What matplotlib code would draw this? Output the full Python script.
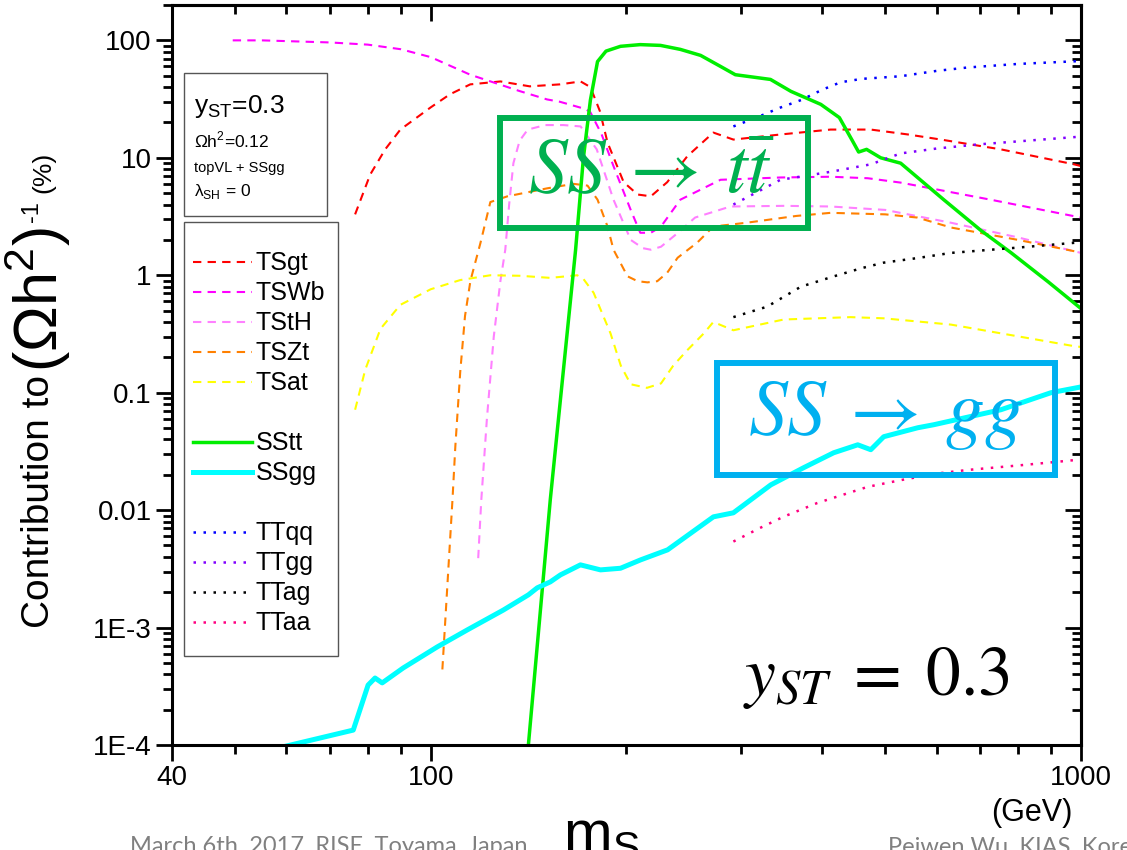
import matplotlib
matplotlib.use('Agg')
import matplotlib.pyplot as plt
from matplotlib.lines import Line2D
from matplotlib.patches import Rectangle
from matplotlib.ticker import FixedLocator, FixedFormatter, NullFormatter

plt.rcParams['font.family'] = ['Liberation Sans', 'DejaVu Sans']

# m_S in GeV, contributions to (Omega h^2)^-1 in %
m_tsgt = [76.5, 80.7, 85.1, 89.8, 100, 107, 115, 128, 142, 158, 170, 176, 182, 187, 198,
          208, 218, 231, 248, 272, 292, 345, 412, 475, 542, 609, 753, 976, 1000]
tsgt = [3.3, 7.2, 11.8, 17.4, 26.9, 34.7, 42.2, 44.7, 40.6, 42.2, 44.7, 40, 25, 13.5, 6.2,
        4.87, 4.7, 6.2, 10.3, 16.4, 14.3, 15.8, 17.4, 17.4, 15.8, 14.3, 11.8, 8.8, 8.5]

m_tswb = [49.6, 55, 62, 70, 80, 90, 100, 115, 137, 151, 158, 173, 176, 183, 191, 203,
          210, 218, 226, 242, 279, 345, 412, 470, 528, 726, 1000]
tswb = [100, 100, 98, 96, 92, 84, 72, 51, 37, 31.4, 30, 26, 24.4, 16, 8.5, 3.6,
        2.3, 2.3, 2.6, 4.4, 6.5, 6.8, 6.9, 6.7, 6.15, 4.4, 3.1]

m_tsth = [118.3, 119.6, 122, 125, 128, 130.2, 132, 134, 137, 141, 150, 160, 170, 180, 191,
          203, 212, 218, 226, 240, 255, 289, 350, 412, 500, 631, 800, 1000]
tsth = [0.0039, 0.0122, 0.06, 0.3, 0.9, 1.65, 4, 9, 14, 17.4, 19, 19, 18.5, 11.8, 4.4,
        2.0, 1.7, 1.65, 1.75, 2.3, 3.1, 3.85, 3.9, 3.85, 3.6, 2.8, 2.1, 1.55]

m_tszt = [104.2, 108, 109.1, 111, 112.9, 115.1, 119.2, 123.5, 131.2, 151.1, 165.8, 174.2,
          180.5, 187, 191, 200.7, 208, 215.4, 223, 231, 239.7, 257, 272, 306, 365, 412,
          500, 560, 631, 800, 1000]
tszt = [4.4e-4, 0.0123, 0.035, 0.15, 0.45, 0.9, 1.87, 4.2, 4.7, 5.5, 6.0, 5.8,
        4.4, 2.6, 1.65, 0.98, 0.89, 0.87, 0.89, 1.05, 1.41, 1.9, 2.6, 2.8, 3.2, 3.4,
        3.3, 3.1, 2.55, 2.0, 1.56]

m_tsat = [76.5, 79.3, 83.7, 89.8, 100, 111, 123.5, 137, 152.7, 168, 171.7, 178, 189, 196,
          203, 215, 226, 236, 248, 263, 272, 292, 349, 442, 497, 631, 972, 1000]
tsat = [0.0716, 0.157, 0.35, 0.56, 0.76, 0.91, 1.0, 0.99, 0.95, 1.0, 0.93, 0.71, 0.32, 0.17,
        0.118, 0.11, 0.12, 0.17, 0.23, 0.32, 0.4, 0.34, 0.42, 0.44, 0.43, 0.38, 0.25, 0.245]

m_sstt = [141.3, 152.7, 167, 171.7, 176, 180.5, 186, 195.8, 210, 225.6, 242, 260, 279, 294,
          333, 358, 398, 425, 445, 455, 468, 492, 528, 615, 702, 780, 890, 1000]
sstt = [1e-4, 0.0123, 1.64, 10, 31, 66, 81, 89, 92, 90.6, 83.8, 74.5, 60, 51,
        46.5, 36.8, 28.5, 22, 14, 11.2, 11.8, 10, 9.0, 4.4, 2.4, 1.56, 0.88, 0.52]

m_ssgg = [59.5, 76, 80.1, 82.1, 84.2, 90.7, 102.3, 113.8, 129.3, 141.3, 145.8, 152.7, 158.3,
          169.9, 182.4, 195.8, 210.2, 231.3, 272.1, 292, 333.3, 374.6, 416.5, 453.6, 475,
          497.3, 561, 594, 753, 899, 1000]
ssgg = [9.7e-5, 1.34e-4, 3.24e-4, 3.72e-4, 3.38e-4, 4.53e-4, 6.84e-4, 9.55e-4, 1.41e-3,
        1.9e-3, 2.18e-3, 2.45e-3, 2.81e-3, 3.42e-3, 3.1e-3, 3.2e-3, 3.77e-3, 4.59e-3,
        8.77e-3, 9.49e-3, 0.0164, 0.023, 0.0308, 0.036, 0.0327, 0.0422, 0.0503, 0.0534,
        0.0716, 0.1, 0.112]

m_ttqq = [292, 320, 345, 371, 400, 427, 460, 528, 600, 670, 800, 976, 1000]
ttqq = [18.5, 22.5, 26.8, 31, 38, 44, 47, 49.5, 55, 58.8, 63, 66.3, 67]

m_ttgg = [292, 345, 412, 475, 528, 600, 694, 800, 976, 1000]
ttgg = [4.0, 6.5, 7.6, 8.8, 10.9, 12, 13, 13.8, 15, 15.2]

m_ttag = [292, 329, 371, 417, 460, 497, 560, 631, 800, 989, 1000]
ttag = [0.44, 0.54, 0.8, 0.98, 1.15, 1.28, 1.4, 1.55, 1.72, 1.9, 1.92]

m_ttaa = [292, 320, 349, 393, 470, 528, 600, 670, 800, 899, 1000]
ttaa = [0.0054, 0.007, 0.0088, 0.0115, 0.0158, 0.018, 0.0205, 0.022, 0.024, 0.0255, 0.027]

x_major = [40, 100, 1000]
x_major_labels = ['40', '100', '1000']
x_minor = [50, 60, 70, 80, 90, 200, 300, 400, 500, 600, 700, 800, 900]
y_major = [1e-4, 1e-3, 1e-2, 0.1, 1, 10, 100]
y_major_labels = ['1E-4', '1E-3', '0.01', '0.1', '1', '10', '100']
y_minor = [k * 10.0 ** e for e in range(-4, 3) for k in range(2, 10)]

fig = plt.figure(figsize=(11.27, 8.5), dpi=100)
ax = fig.add_axes([0.1526, 0.1235, 0.8066, 0.8706])
ax.set_xscale('log')
ax.set_yscale('log')
ax.set_xlim(40, 1000)
ax.set_ylim(1e-4, 200)

dash = (4, 3)
dot = (1, 3)
ax.plot(m_tsgt, tsgt, color='#ff0000', lw=1.5, dashes=dash, label='TSgt')
ax.plot(m_tswb, tswb, color='#ff00ff', lw=1.5, dashes=dash, label='TSWb')
ax.plot(m_tsth, tsth, color='#ff80ff', lw=1.5, dashes=dash, label='TStH')
ax.plot(m_tszt, tszt, color='#ff8000', lw=1.5, dashes=dash, label='TSZt')
ax.plot(m_tsat, tsat, color='#ffff00', lw=1.5, dashes=dash, label='TSat')
ax.plot(m_sstt, sstt, color='#00ee00', lw=2.5, label='SStt')
ax.plot(m_ssgg, ssgg, color='#00ffff', lw=3.6, label='SSgg')
ax.plot(m_ttqq, ttqq, color='#0000ff', lw=1.8, dashes=dot, label='TTqq')
ax.plot(m_ttgg, ttgg, color='#8000ff', lw=1.8, dashes=dot, label='TTgg')
ax.plot(m_ttag, ttag, color='#000000', lw=1.8, dashes=dot, label='TTag')
ax.plot(m_ttaa, ttaa, color='#ff0080', lw=1.8, dashes=dot, label='TTaa')

# legend frame drawn separately so the inner spacing can be set freely
ax.add_patch(Rectangle((0.0132, 0.1203), 0.1694, 0.5865, transform=ax.transAxes,
                       facecolor='white', edgecolor='#555555', lw=1, zorder=4))
handles, labels = ax.get_legend_handles_labels()
gap = Line2D([], [], color='none')
order = [0, 1, 2, 3, 4, None, 5, 6, None, 7, 8, 9, 10]
leg_h = [gap if i is None else handles[i] for i in order]
leg_l = [' ' if i is None else labels[i] for i in order]
ax.legend(leg_h, leg_l, loc='upper left', bbox_to_anchor=(0.0231, 0.667),
          borderaxespad=0, borderpad=0, fontsize=18, handlelength=2.36,
          handletextpad=0.15, labelspacing=0.24, frameon=False)

# parameter box
ax.add_patch(Rectangle((0.0132, 0.715), 0.1573, 0.193, transform=ax.transAxes,
                       facecolor='white', edgecolor='#555555', lw=1, zorder=4))
ax.text(0.024, 0.854, r'y$_\mathregular{ST}$=0.3', transform=ax.transAxes, fontsize=19,
        zorder=6)
ax.text(0.024, 0.807, r'Ωh$^\mathregular{2}$=0.12', transform=ax.transAxes, fontsize=12.5,
        zorder=6)
ax.text(0.024, 0.775, 'topVL + SSgg', transform=ax.transAxes, fontsize=10.5, zorder=6)
ax.text(0.024, 0.742, r'λ$_\mathregular{SH}$ = 0', transform=ax.transAxes, fontsize=12.5,
        zorder=6)

# channel boxes
ax.add_patch(Rectangle((0.3608, 0.6986), 0.3389, 0.1487, transform=ax.transAxes,
                       fill=False, edgecolor='#00b050', lw=4.3, zorder=5))
ax.text(0.527, 0.774, r'$SS\:\rightarrow\:t\bar{t}$', transform=ax.transAxes, ha='center',
        va='center', fontsize=56, color='#00b050', math_fontfamily='stix', zorder=5)
ax.add_patch(Rectangle((0.5996, 0.3649), 0.3718, 0.1513, transform=ax.transAxes,
                       fill=False, edgecolor='#00b0f0', lw=4.3, zorder=5))
ax.text(0.785, 0.445, r'$SS\:\rightarrow\:gg$', transform=ax.transAxes, ha='center',
        va='center', fontsize=56, color='#00b0f0', math_fontfamily='stix', zorder=5)
ax.text(0.628, 0.0676, r'$y_{ST}\;=\;0.3$', transform=ax.transAxes, ha='left',
        va='baseline', fontsize=50, color='black', math_fontfamily='stix')

# axes frame and ticks: outward on bottom/left, inward on top/right
for s in ax.spines.values():
    s.set_linewidth(2.2)
ax.set_xticks(x_major)
ax.set_xticklabels(x_major_labels)
ax.xaxis.set_minor_locator(FixedLocator(x_minor))
ax.xaxis.set_minor_formatter(NullFormatter())
ax.yaxis.set_major_locator(FixedLocator(y_major))
ax.yaxis.set_major_formatter(FixedFormatter(y_major_labels))
ax.yaxis.set_minor_locator(FixedLocator(y_minor))
ax.yaxis.set_minor_formatter(NullFormatter())
ax.tick_params(which='major', direction='out', length=11.5, width=2, labelsize=20, pad=3)
ax.tick_params(which='minor', direction='out', length=6.5, width=2)

top = ax.secondary_xaxis('top')
top.xaxis.set_major_locator(FixedLocator(x_major))
top.xaxis.set_minor_locator(FixedLocator(x_minor))
top.xaxis.set_major_formatter(NullFormatter())
top.xaxis.set_minor_formatter(NullFormatter())
top.tick_params(which='major', direction='in', length=11.5, width=2)
top.tick_params(which='minor', direction='in', length=6.5, width=2)
top.spines['top'].set_linewidth(2.2)

right = ax.secondary_yaxis('right')
right.yaxis.set_major_locator(FixedLocator(y_major))
right.yaxis.set_minor_locator(FixedLocator(y_minor))
right.yaxis.set_major_formatter(NullFormatter())
right.yaxis.set_minor_formatter(NullFormatter())
right.tick_params(which='major', direction='in', length=11.5, width=2)
right.tick_params(which='minor', direction='in', length=6.5, width=2)
right.spines['right'].set_linewidth(2.2)

# axis titles
fig.text(0.4996, 0.0, r'm$_\mathregular{S}$', fontsize=42, ha='left', va='baseline')
fig.text(0.9157, 0.0435, '(GeV)', fontsize=22, ha='center', va='center')

# y title pieces, stacked bottom to top
fig.canvas.draw()
rend = fig.canvas.get_renderer()
H = fig.bbox.height
pieces = [('Contribution to', 28, 0.0435, 0.0),
          (r'(Ωh$^\mathregular{2}$)', 44, 0.0515, 0.004),
          ('-1', 17, 0.0335, 0.006),
          ('(%)', 19, 0.0450, 0.010)]
y0 = 0.2612
for txt, size, xb, gap_y in pieces:
    y0 += gap_y
    t = fig.text(xb, y0, txt, fontsize=size, rotation=90, rotation_mode='anchor',
                 ha='left', va='baseline')
    y0 = t.get_window_extent(rend).y1 / H

# slide footer
fig.text(0.1153, -0.004, 'March 6th, 2017, RISE, Toyama, Japan', color='#808080',
         fontsize=17, family='Lato', va='baseline', zorder=0)
fig.text(0.788, -0.004, 'Peiwen Wu, KIAS, Korea', color='#808080',
         fontsize=17, family='Lato', va='baseline', zorder=0)

fig.savefig('out.png', dpi=100)
